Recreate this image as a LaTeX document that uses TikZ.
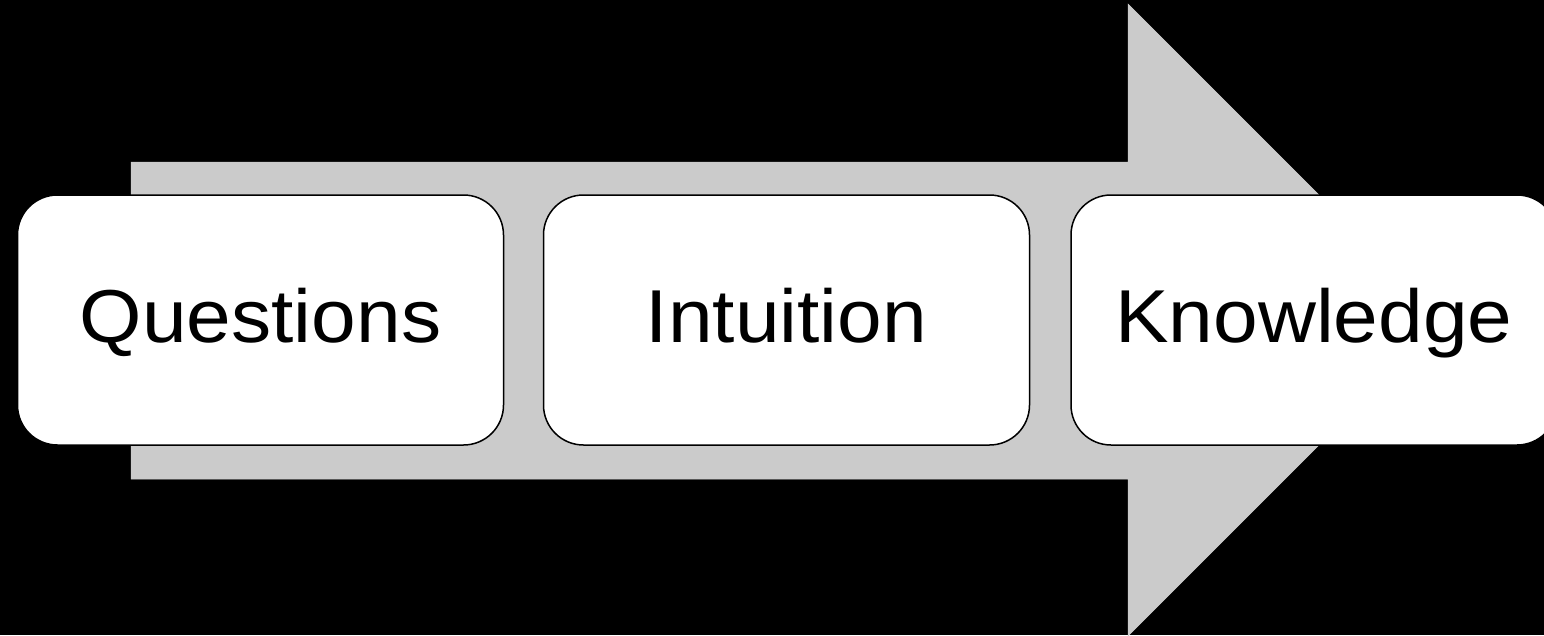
\documentclass[tikz,border=0pt]{standalone}
\usepackage{fontspec}
\setmainfont{Liberation Sans}[FakeStretch=1.07]
\definecolor{arrowgray}{HTML}{CBCBCB}
\tikzset{
  stagebox/.style={draw=black, line width=1.5pt, fill=white, rounded corners=40pt,
    minimum width=486pt, minimum height=250pt, inner sep=0pt,
    text height=54pt, text depth=10pt,
    font=\fontsize{75}{90}\selectfont},
  bigarrow/.style={fill=arrowgray, draw=arrowgray, line width=0.5pt}
}
\begin{document}
\begin{tikzpicture}[x=1pt,y=-1pt]
\fill[black] (0,0) rectangle (1544,635);
\useasboundingbox (0,0) rectangle (1544,635);
\draw[bigarrow] (131,162) -- (1128,162) -- (1128,4) -- (1444,320) -- (1128,636) -- (1128,479) -- (131,479) -- cycle;
\node[stagebox] (q) at (260.5,320) {Questions};
\node[stagebox] (i) at (786.5,320) {Intuition};
\node[stagebox] (k) at (1314,320) {Knowledge};
\end{tikzpicture}
\end{document}
